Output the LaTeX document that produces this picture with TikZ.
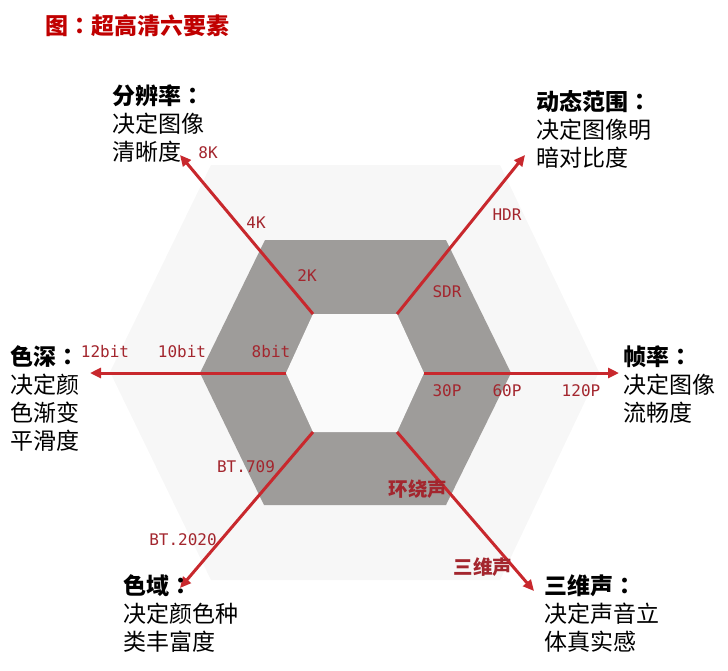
\documentclass[tikz,border=0pt]{standalone}
\usepackage{fontspec}
\setmainfont{Noto Sans CJK SC}
\newfontfamily\tcfont{Noto Sans CJK TC}
\newfontfamily\tagfont{DejaVu Sans Mono}
\usetikzlibrary{arrows.meta}

\definecolor{arrowred}{HTML}{C8282D}
\definecolor{tagred}{HTML}{A3262E}
\definecolor{titlered}{HTML}{C00000}
\definecolor{hexgray}{HTML}{9E9C9A}
\definecolor{hexlight}{HTML}{F7F7F7}
\definecolor{hexhole}{HTML}{FAFAFA}

% centred full-width colon
\newcommand{\fullcolon}{{\tcfont ：}}

\begin{document}
\begin{tikzpicture}[x=1pt,y=-1pt,
            >={Triangle[length=11pt,width=10pt]},
            axis/.style={draw=arrowred,line width=3pt,->},
            tag/.style={font=\tagfont\fontsize{16}{16}\selectfont,
                text=tagred,inner sep=0pt},
            sound/.style={font=\bfseries\fontsize{19.5}{20}\selectfont,
                text=tagred,inner sep=0pt},
            desc/.style={font=\fontsize{23}{28}\selectfont,
                align=left,anchor=base west,inner sep=0pt}
            ]
            \useasboundingbox (0,0) rectangle (728,670);

            % three hexagons
            \fill[hexlight] (211,165) -- (500,165) -- (599,372)
                -- (500,580) -- (211,580) -- (110,372) -- cycle;
            \fill[hexgray] (265,240) -- (446,240) -- (511,373)
                -- (446,505) -- (264,505) -- (200,373) -- cycle;
            \fill[hexhole] (313,314) coordinate (in-nw)
                -- (397,314) coordinate (in-ne)
                -- (424,373) coordinate (in-e)
                -- (397,432) coordinate (in-se)
                -- (313,432) coordinate (in-sw)
                -- (286,373) coordinate (in-w) -- cycle;

            \node[anchor=base west,inner sep=0pt,text=titlered,
                font=\bfseries\fontsize{23}{23}\selectfont]
                (title) at (45,34) {图\fullcolon 超高清六要素};

            % arrow ends
            \coordinate (tip-nw) at (180,155);
            \coordinate (tip-ne) at (525,155);
            \coordinate (tip-w)  at (90,373);
            \coordinate (tip-e)  at (619,373);
            \coordinate (tip-sw) at (180,588);
            \coordinate (tip-se) at (534,591);

            \path
            (in-nw) edge[axis] (tip-nw)
            (in-ne) edge[axis] (tip-ne)
            (in-w)  edge[axis] (tip-w)
            (in-e)  edge[axis] (tip-e)
            (in-sw) edge[axis] (tip-sw)
            (in-se) edge[axis] (tip-se);

            % levels on each axis
            \node[tag] (k8)  at (208,153) {8K};
            \node[tag] (k4)  at (256,223) {4K};
            \node[tag] (k2)  at (307,276) {2K};
            \node[tag] (hdr) at (507,215) {HDR};
            \node[tag] (sdr) at (447,292) {SDR};
            \node[tag] (b12) at (105,352) {12bit};
            \node[tag] (b10) at (182,352) {10bit};
            \node[tag] (b8)  at (271,352) {8bit};
            \node[tag] (p30) at (447,391) {30P};
            \node[tag] (p60) at (507,391) {60P};
            \node[tag] (p120) at (581,391) {120P};
            \node[tag] (bt709)  at (246,467) {BT.709};
            \node[tag] (bt2020) at (183,540) {BT.2020};
            \node[sound] (surround) at (418,489) {环绕声};
            \node[sound] (spatial)  at (483,567) {三维声};

            % the six elements (anchored at the last baseline)
            \node[desc] (resolution) at (112,160)
                {\textbf{分辨率\fullcolon}\\决定图像\\清晰度};
            \node[desc] (range) at (536,166)
                {\textbf{动态范围\fullcolon}\\决定图像明\\暗对比度};
            \node[desc] (depth) at (10,449)
                {\textbf{色深\fullcolon}\\决定颜\\色渐变\\平滑度};
            \node[desc] (framerate) at (623,421)
                {\textbf{帧率\fullcolon}\\决定图像\\流畅度};
            \node[desc] (gamut) at (123,650)
                {\textbf{色域\fullcolon}\\决定颜色种\\类丰富度};
            \node[desc] (audio) at (544,650)
                {\textbf{三维声\fullcolon}\\决定声音立\\体真实感};
        \end{tikzpicture}
\end{document}
